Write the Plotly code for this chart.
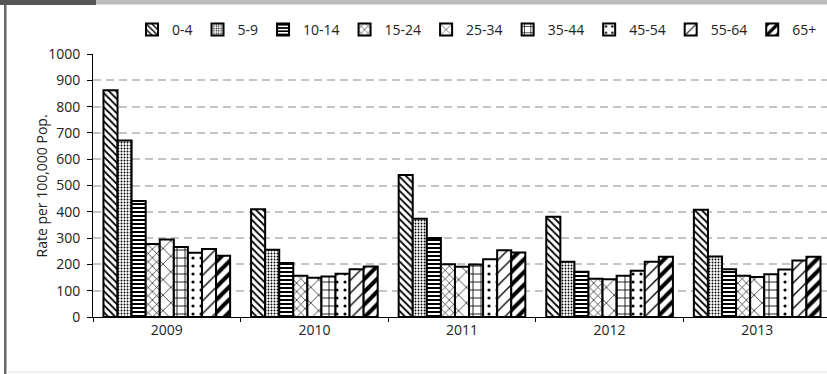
import plotly.graph_objects as go

# ---- data ----
years = ["2009", "2010", "2011", "2012", "2013"]
age_groups = ["0-4", "5-9", "10-14", "15-24", "25-34", "35-44", "45-54", "55-64", "65+"]
rate_0_4 = [862, 410, 540, 381, 408]
rate_5_9 = [671, 256, 374, 210, 230]
rate_10_14 = [441, 205, 300, 172, 182]
rate_15_24 = [278, 157, 201, 145, 157]
rate_25_34 = [295, 149, 191, 144, 152]
rate_35_44 = [266, 154, 200, 157, 163]
rate_45_54 = [244, 164, 220, 176, 181]
rate_55_64 = [259, 182, 254, 210, 215]
rate_65_plus = [233, 192, 245, 229, 229]
series = [rate_0_4, rate_5_9, rate_10_14, rate_15_24, rate_25_34,
          rate_35_44, rate_45_54, rate_55_64, rate_65_plus]
y_ticks = [0, 100, 200, 300, 400, 500, 600, 700, 800, 900, 1000]

# ---- styling ----
patterns = [
    dict(shape="\\", size=5, solidity=0.35),
    dict(shape=".", size=3, solidity=0.3),
    dict(shape="-", size=4, solidity=0.5),
    dict(shape="x", size=6, solidity=0.2),
    dict(shape="x", size=11, solidity=0.12),
    dict(shape="+", size=8, solidity=0.2),
    dict(shape=".", size=8, solidity=0.12),
    dict(shape="/", size=9, solidity=0.15),
    dict(shape="/", size=9, solidity=0.45),
]

W, H = 827, 374
L, R, T, B = 93, 0, 54, 57
PW, PH = W - L - R, H - T - B

def px(x):
    return (x - L) / PW

def py(y):
    return (H - B - y) / PH

FONT = "Open Sans"
TXT = "#222222"

fig = go.Figure()
for name, vals, pat in zip(age_groups, series, patterns):
    fig.add_trace(go.Bar(
        name=name, x=years, y=vals,
        marker=dict(color="white",
                    line=dict(color="black", width=2),
                    pattern=dict(fgcolor="black", bgcolor="white", fillmode="replace", **pat)),
    ))

fig.update_layout(
    width=W, height=H,
    margin=dict(l=L, r=R, t=T, b=B, pad=0),
    paper_bgcolor="white", plot_bgcolor="white",
    barmode="group", bargap=0.142, bargroupgap=0,
    font=dict(family=FONT, size=14, color=TXT),
    showlegend=True,
    legend=dict(orientation="h", x=px(822), xanchor="right", y=py(30), yanchor="middle",
                font=dict(size=14, color=TXT), itemwidth=30, tracegroupgap=0,
                bgcolor="rgba(0,0,0,0)"),
    xaxis=dict(type="category", range=[-0.5, 4.473], showgrid=False,
               showline=True, linecolor="black", linewidth=1,
               ticks="outside", tickson="boundaries", ticklen=4, tickcolor="black",
               tickfont=dict(size=14, color=TXT), zeroline=False),
    yaxis=dict(range=[0, 1000], tickvals=y_ticks, showgrid=True, gridcolor="#c4c4c4",
               gridwidth=1.5, griddash="8px,5px",
               showline=True, linecolor="black", linewidth=1,
               ticks="outside", ticklen=5, tickcolor="black",
               ticklabelstandoff=4,
               tickfont=dict(size=14, color=TXT), zeroline=False),
    annotations=[dict(text="Rate per 100,000 Pop.", textangle=-90, xref="paper", yref="paper",
                      x=px(41), y=0.5, xanchor="center", yanchor="middle", showarrow=False,
                      font=dict(size=14, color=TXT))],
    shapes=[
        dict(type="rect", xref="paper", yref="paper", x0=px(0), x1=px(96), y0=py(0), y1=py(5),
             fillcolor="#555555", line=dict(width=0), layer="above"),
        dict(type="rect", xref="paper", yref="paper", x0=px(96), x1=px(827), y0=py(0), y1=py(4.5),
             fillcolor="#bdbdbd", line=dict(width=0), layer="above"),
        dict(type="rect", xref="paper", yref="paper", x0=px(4), x1=px(6.5), y0=py(5), y1=py(374),
             fillcolor="#666666", line=dict(width=0), layer="above"),
        dict(type="line", xref="paper", yref="paper", x0=px(6.5), x1=px(827), y0=py(372), y1=py(372),
             line=dict(color="#dddddd", width=1), layer="above"),
    ],
)

fig.write_html("out.html")
